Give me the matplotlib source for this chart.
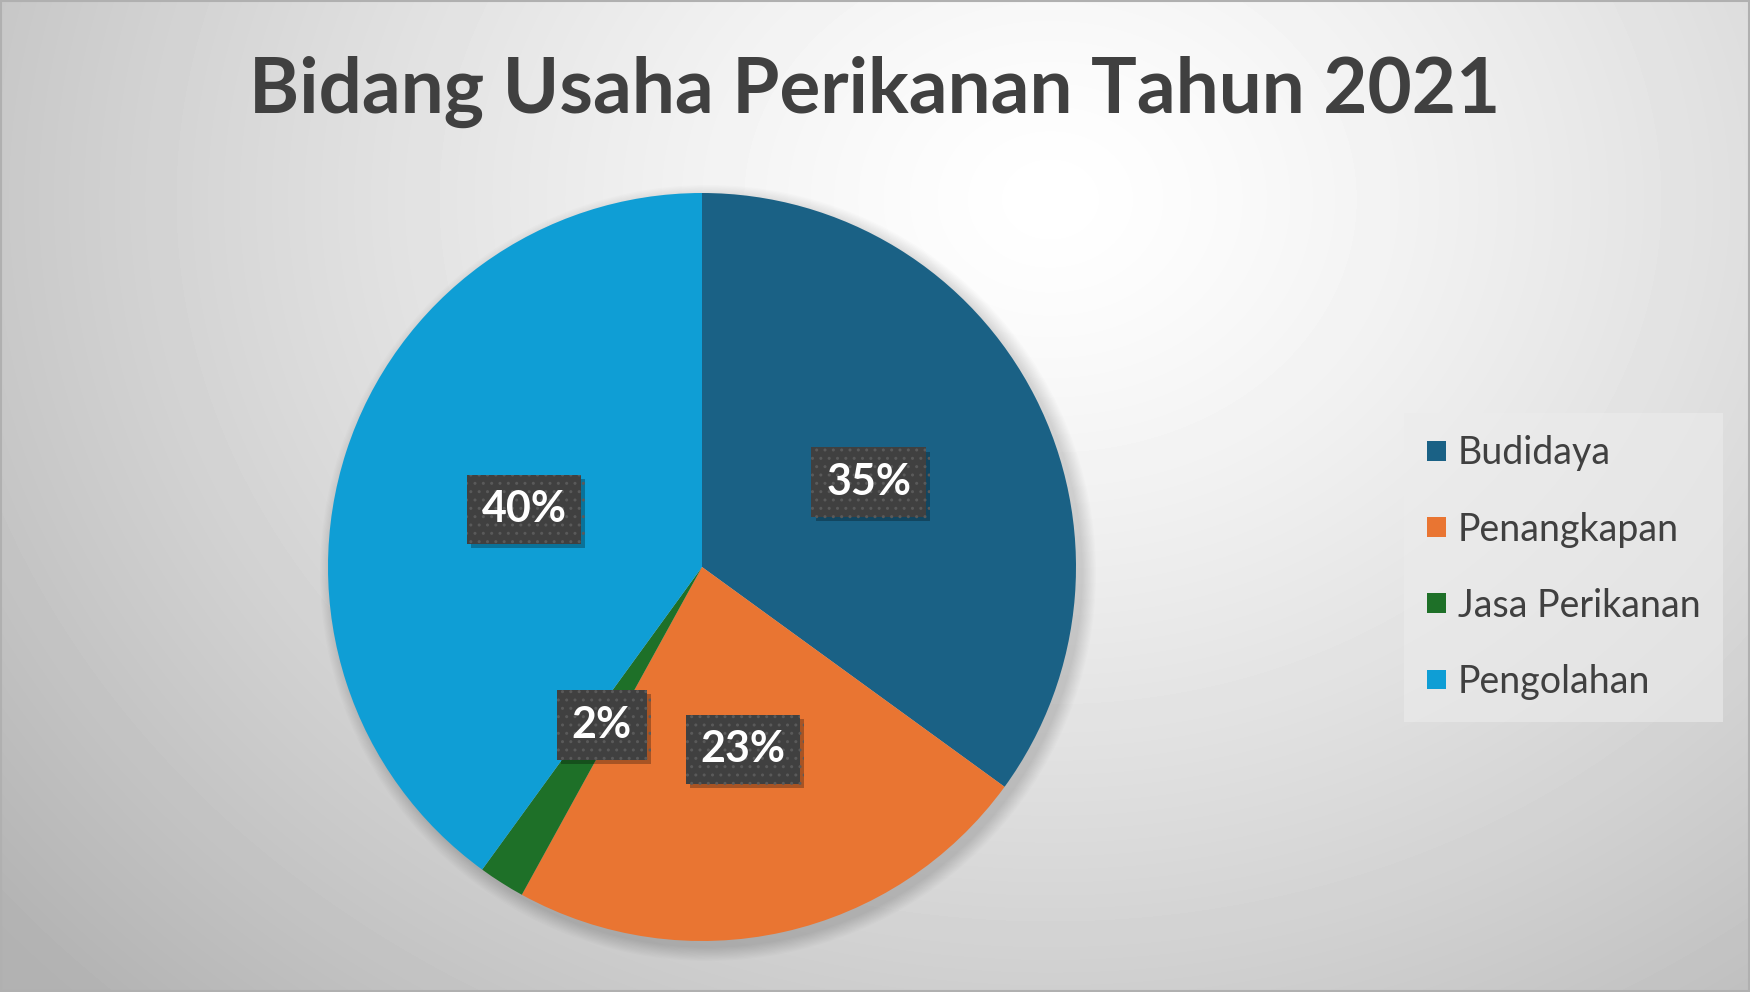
import numpy as np
import matplotlib.pyplot as plt
import matplotlib.patheffects as pe
from matplotlib.patches import Circle, Rectangle

# data
categories = ["Budidaya", "Penangkapan", "Jasa Perikanan", "Pengolahan"]
shares = [35, 23, 2, 40]
colors = ["#1a6185", "#e97532", "#1e7028", "#0f9ed5"]
title = "Bidang Usaha Perikanan Tahun 2021"

W, H = 1750, 992
plt.rcParams['font.family'] = ['Lato', 'DejaVu Sans']

fig = plt.figure(figsize=(W / 100, H / 100), dpi=100)
ax = fig.add_axes([0, 0, 1, 1])
ax.set_xlim(0, W)
ax.set_ylim(0, H)
ax.set_aspect('equal')
ax.axis('off')

# radial grey background
yy, xx = np.mgrid[0:H, 0:W]
d = np.sqrt(((xx - 1050) / 1150.0) ** 2 + ((yy - (H - 200)) / 950.0) ** 2)
bg = 1.0 - 0.24 * np.clip(d, 0, 1.2) ** 1.3
ax.imshow(bg, cmap='gray', vmin=0, vmax=1, extent=[0, W, 0, H],
          origin='lower', zorder=0, interpolation='bilinear')
ax.add_patch(Rectangle((1, 1), W - 2, H - 2, fill=False, ec='#b0b0b0', lw=1.5, zorder=10))

# pie with soft shadow
cx, cy, r = 702, H - 567, 374
for i in range(12):
    ax.add_patch(Circle((cx + 6, cy - 6), r + 14 - i * 1.2, color='black',
                        alpha=0.012, lw=0, zorder=1))

wedges, texts, autotexts = ax.pie(
    shares, colors=colors, startangle=90, counterclock=False,
    center=(cx, cy), radius=r, autopct='%1.0f%%', pctdistance=0.5,
    wedgeprops=dict(linewidth=0), frame=True,
    textprops=dict(color='white', fontsize=31, fontweight='bold'))
for w in wedges:
    w.set_zorder(2)
ax.set_xlim(0, W)
ax.set_ylim(0, H)
ax.axis('off')

for t in autotexts:
    t.set_zorder(5)
    t.set_bbox(dict(boxstyle='square,pad=0.34', facecolor='#404040',
                    edgecolor='#5a5a5a', linewidth=0, hatch='..'))
    t.get_bbox_patch().set_path_effects([
        pe.SimplePatchShadow(offset=(3, -3), shadow_rgbFace='black', alpha=0.28),
        pe.Normal()])

ax.text(W / 2, H - 92, title, ha='center', va='center', fontsize=55,
        fontweight='bold', color='#404040', zorder=6)

leg = ax.legend(wedges, categories, loc='upper left',
                bbox_to_anchor=(1404 / W, 1 - 413 / H), bbox_transform=fig.transFigure,
                fontsize=27, frameon=True, fancybox=False, labelcolor='#404040',
                handlelength=0.53, handleheight=0.44, handletextpad=0.3,
                labelspacing=1.07, borderpad=0.6, borderaxespad=0)
leg.get_frame().set_facecolor('#ececec')
leg.get_frame().set_alpha(0.6)
leg.get_frame().set_linewidth(0)
leg.set_zorder(6)

fig.savefig('out.png', dpi=100)
